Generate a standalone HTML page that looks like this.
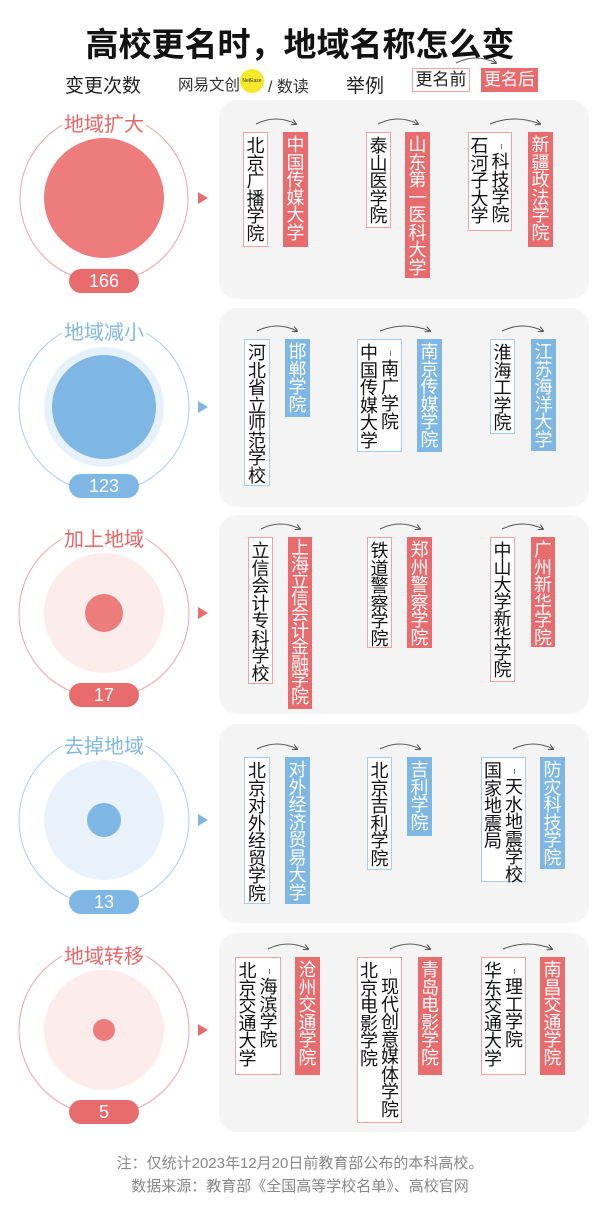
<!DOCTYPE html>
<html><head><meta charset="utf-8">
<style>
body{margin:0;width:600px;height:1211px;background:#fff;position:relative;overflow:hidden;font-family:"Liberation Sans","Noto Sans CJK SC",sans-serif;}
.a{position:absolute;}
.b{position:absolute;box-sizing:border-box;font-size:18px;line-height:17.5px;padding-top:5px;display:flex;justify-content:center;color:#111;}
.b .c{width:18px;word-break:break-all;text-align:center;white-space:normal;}
.r{background:#e86b6d;color:#fff;}
.u{background:#7fb7e4;color:#fff;}
.ro{background:#fff;border:1px solid #efa3a3;}
.uo{background:#fff;border:1px solid #aacdee;}
.b .c2{margin-top:16px;margin-left:3px;position:relative;}
.b .c2:before{content:"";position:absolute;left:50%;top:-10px;width:1px;height:5px;background:#777;}
.lab{position:absolute;width:120px;text-align:center;font-size:20px;}
.badge{position:absolute;width:70px;height:24px;border-radius:12px;color:#fff;font-size:18px;line-height:24px;text-align:center;}
.panel{position:absolute;left:219px;width:370px;height:199px;background:#f4f4f4;border-radius:18px;}
</style></head><body>
<div class="a" style="left:0;top:18px;width:600px;text-align:center;font-size:33px;font-weight:bold;color:#111;">高校更名时，地域名称怎么变</div>
<div class="a" style="left:65px;top:71px;font-size:19px;color:#222;">变更次数</div>
<div class="a" style="left:178px;top:73px;font-size:15.5px;color:#333;">网易文创</div>
<div class="a" style="left:240px;top:69px;width:24px;height:24px;border-radius:12px;background:#f5e92a;font-size:5px;line-height:24px;text-align:center;color:#333;">NetEase</div>
<div class="a" style="left:268px;top:73px;font-size:16px;color:#333;">/ 数读</div>
<div class="a" style="left:346px;top:71px;font-size:19px;color:#222;">举例</div>
<div class="a" style="left:412px;top:68px;width:58px;height:24px;box-sizing:border-box;border:1px solid #efa3a3;font-size:17px;line-height:22px;text-align:center;color:#222;">更名前</div>
<div class="a" style="left:481px;top:68px;width:57px;height:24px;background:#e86b6d;font-size:17px;line-height:24px;text-align:center;color:#fff;">更名后</div>

<div class="panel" style="top:100px"></div>
<div class="panel" style="top:308px"></div>
<div class="panel" style="top:515px"></div>
<div class="panel" style="top:724px"></div>
<div class="panel" style="top:933px"></div>

<svg class="a" style="left:0;top:0" width="600" height="1211">
<defs>
<marker id="m" markerWidth="6" markerHeight="6" refX="5" refY="3" orient="auto"><path d="M0,0 L6,3 L0,6" fill="none" stroke="#555" stroke-width="1"/></marker>
</defs>
<path d="M456,63 Q476,53 496,63" fill="none" stroke="#555" stroke-width="1" marker-end="url(#m)"/>
<g fill="none" stroke-width="1">
<circle cx="104" cy="198" r="84" stroke="#f0a3a3"/>
<circle cx="104" cy="407" r="85" stroke="#aacdee"/>
<circle cx="104" cy="613" r="85" stroke="#f0a3a3"/>
<circle cx="104" cy="820" r="85" stroke="#aacdee"/>
<circle cx="104" cy="1030" r="85" stroke="#f0a3a3"/>
</g>
<circle cx="104" cy="198" r="60" fill="#ee7c7c"/>
<circle cx="104" cy="407" r="60" fill="#e6f1fb"/><circle cx="104" cy="407" r="52" fill="#7fb7e4"/>
<circle cx="104" cy="613" r="60" fill="#fcecec"/><circle cx="104" cy="613" r="19" fill="#ee7c7c"/>
<circle cx="104" cy="820" r="60" fill="#e9f2fb"/><circle cx="104" cy="820" r="17" fill="#7fb7e4"/>
<circle cx="104" cy="1030" r="60" fill="#fcecec"/><circle cx="104" cy="1030" r="11" fill="#ee7c7c"/>
<rect x="62" y="108" width="84" height="22" fill="#fff"/>
<rect x="62" y="316" width="84" height="22" fill="#fff"/>
<rect x="62" y="523" width="84" height="22" fill="#fff"/>
<rect x="62" y="730" width="84" height="22" fill="#fff"/>
<rect x="62" y="940" width="84" height="22" fill="#fff"/>
<path d="M198,192 L208,198 L198,204Z" fill="#e86b6d"/>
<path d="M198,401 L208,407 L198,413Z" fill="#7fb7e4"/>
<path d="M198,607 L208,613 L198,619Z" fill="#e86b6d"/>
<path d="M198,814 L208,820 L198,826Z" fill="#7fb7e4"/>
<path d="M198,1024 L208,1030 L198,1036Z" fill="#e86b6d"/>
<g fill="none" stroke="#555" stroke-width="1" marker-end="url(#m)">
<path d="M256,124 Q276,114 296,124"/><path d="M378,124 Q398,114 418,124"/><path d="M490,124 Q515,114 540,124"/>
<path d="M257,331 Q277,321 297,331"/><path d="M380,331 Q405,321 430,331"/><path d="M502,331 Q523,321 543,331"/>
<path d="M261,529 Q280,519 300,529"/><path d="M380,529 Q400,519 420,529"/><path d="M502,529 Q523,519 543,529"/>
<path d="M257,749 Q277,739 297,749"/><path d="M380,749 Q400,739 420,749"/><path d="M513,749 Q533,739 553,749"/>
<path d="M268,949 Q288,939 308,949"/><path d="M390,949 Q410,939 430,949"/><path d="M503,949 Q528,939 552,949"/>
</g>
</svg>

<div class="lab" style="left:44px;top:108px;color:#e96566;">地域扩大</div>
<div class="lab" style="left:44px;top:316px;color:#82b8e3;">地域减小</div>
<div class="lab" style="left:44px;top:523px;color:#e96566;">加上地域</div>
<div class="lab" style="left:44px;top:730px;color:#82b8e3;">去掉地域</div>
<div class="lab" style="left:44px;top:940px;color:#e96566;">地域转移</div>

<div class="badge" style="left:69px;top:269px;background:#e86b6d;">166</div>
<div class="badge" style="left:69px;top:474px;background:#7fb7e4;">123</div>
<div class="badge" style="left:69px;top:683px;background:#e86b6d;">17</div>
<div class="badge" style="left:69px;top:890px;background:#7fb7e4;">13</div>
<div class="badge" style="left:69px;top:1100px;background:#e86b6d;">5</div>

<div class="b ro" style="left:243px;top:132px;width:25px;height:115px;"><div class="c">北京广播学院</div></div>
<div class="b r" style="left:283px;top:132px;width:25px;height:115px;"><div class="c">中国传媒大学</div></div>
<div class="b ro" style="left:366px;top:132px;width:25px;height:96px;"><div class="c">泰山医学院</div></div>
<div class="b r" style="left:405px;top:132px;width:25px;height:146px;"><div class="c">山东第一医科大学</div></div>
<div class="b ro" style="left:468px;top:132px;width:44px;height:99px;"><div class="c">石河子大学</div><div class="c c2">科技学院</div></div>
<div class="b r" style="left:528px;top:132px;width:25px;height:115px;"><div class="c">新疆政法学院</div></div>

<div class="b uo" style="left:244px;top:339px;width:26px;height:147px;"><div class="c">河北省立师范学校</div></div>
<div class="b u" style="left:285px;top:339px;width:25px;height:78px;"><div class="c">邯郸学院</div></div>
<div class="b uo" style="left:357px;top:339px;width:45px;height:113px;"><div class="c">中国传媒大学</div><div class="c c2">南广学院</div></div>
<div class="b u" style="left:417px;top:339px;width:25px;height:113px;"><div class="c">南京传媒学院</div></div>
<div class="b uo" style="left:490px;top:339px;width:25px;height:95px;"><div class="c">淮海工学院</div></div>
<div class="b u" style="left:531px;top:339px;width:25px;height:112px;"><div class="c">江苏海洋大学</div></div>

<div class="b ro" style="left:248px;top:537px;width:25px;height:147px;"><div class="c">立信会计专科学校</div></div>
<div class="b r" style="left:288px;top:537px;width:24px;height:172px;line-height:16.5px;padding-top:3px;"><div class="c">上海立信会计金融学院</div></div>
<div class="b ro" style="left:367px;top:537px;width:25px;height:111px;"><div class="c">铁道警察学院</div></div>
<div class="b r" style="left:407px;top:537px;width:25px;height:111px;"><div class="c">郑州警察学院</div></div>
<div class="b ro" style="left:490px;top:537px;width:25px;height:145px;line-height:17px;"><div class="c">中山大学新华学院</div></div>
<div class="b r" style="left:531px;top:537px;width:24px;height:110px;"><div class="c">广州新华学院</div></div>

<div class="b uo" style="left:244px;top:757px;width:26px;height:147px;"><div class="c">北京对外经贸学院</div></div>
<div class="b u" style="left:285px;top:757px;width:25px;height:147px;"><div class="c">对外经济贸易大学</div></div>
<div class="b uo" style="left:367px;top:757px;width:25px;height:113px;"><div class="c">北京吉利学院</div></div>
<div class="b u" style="left:407px;top:757px;width:25px;height:79px;"><div class="c">吉利学院</div></div>
<div class="b uo" style="left:481px;top:757px;width:45px;height:125px;"><div class="c">国家地震局</div><div class="c c2">天水地震学校</div></div>
<div class="b u" style="left:540px;top:757px;width:25px;height:112px;"><div class="c">防灾科技学院</div></div>

<div class="b ro" style="left:235px;top:957px;width:46px;height:118px;"><div class="c">北京交通大学</div><div class="c c2">海滨学院</div></div>
<div class="b r" style="left:295px;top:957px;width:25px;height:118px;"><div class="c">沧州交通学院</div></div>
<div class="b ro" style="left:357px;top:957px;width:45px;height:166px;"><div class="c">北京电影学院</div><div class="c c2">现代创意媒体学院</div></div>
<div class="b r" style="left:418px;top:957px;width:24px;height:118px;"><div class="c">青岛电影学院</div></div>
<div class="b ro" style="left:481px;top:957px;width:45px;height:118px;"><div class="c">华东交通大学</div><div class="c c2">理工学院</div></div>
<div class="b r" style="left:540px;top:957px;width:25px;height:118px;"><div class="c">南昌交通学院</div></div>

<div class="a" style="left:0;top:1152px;width:600px;text-align:center;font-size:15px;color:#888;line-height:23px;">注：仅统计2023年12月20日前教育部公布的本科高校。<br>数据来源：教育部《全国高等学校名单》、高校官网</div>
</body></html>
